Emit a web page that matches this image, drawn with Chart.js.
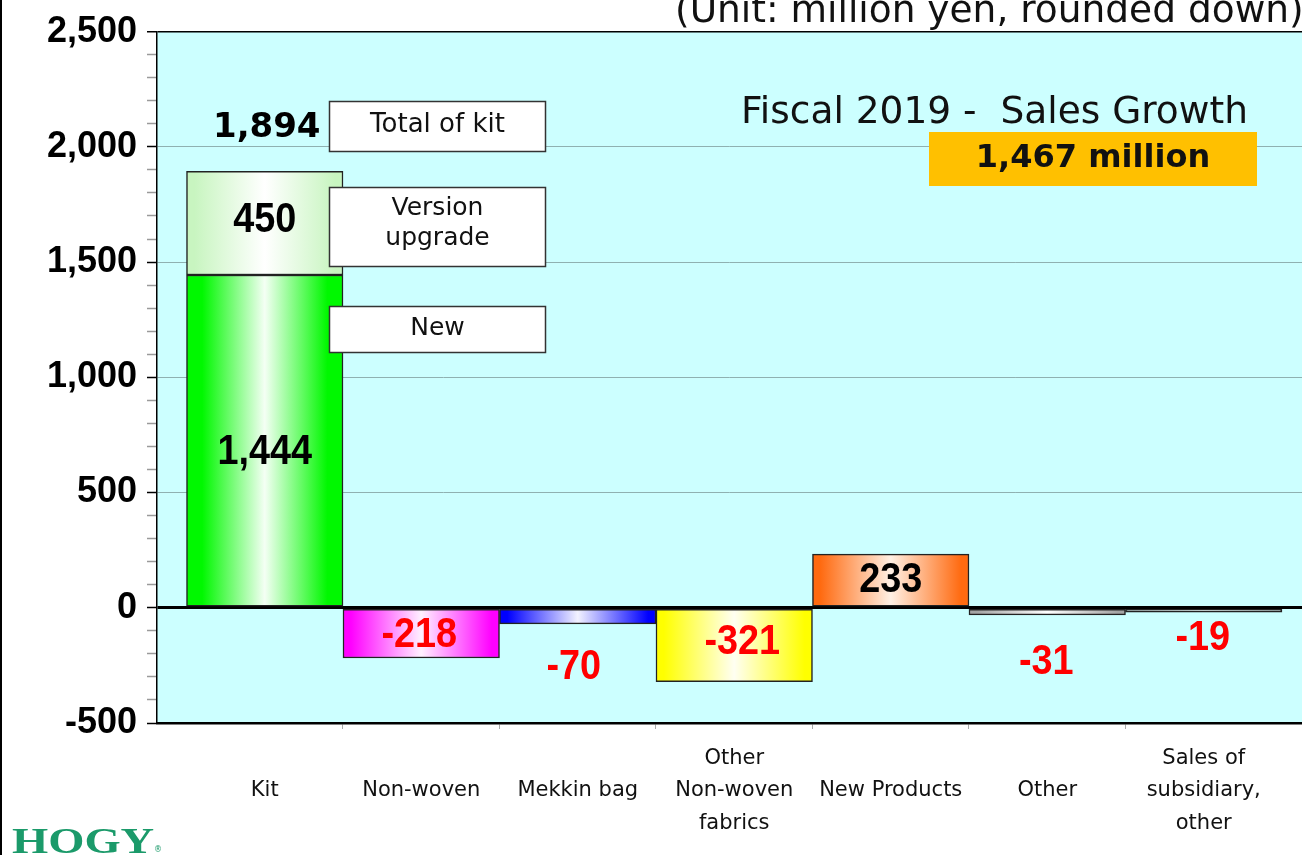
<!DOCTYPE html>
<html><head><meta charset="utf-8">
<script src="https://cdn.jsdelivr.net/npm/chart.js@4.4.1/dist/chart.umd.min.js"></script>
<style>html,body{margin:0;padding:0;background:#fff;overflow:hidden}#wrap{position:relative;width:1302px;height:855px}</style>
</head><body><div id="wrap"><canvas id="c"></canvas></div>
<script>
// ---- data ----
const categories = [
  ['', 'Kit', ''],
  ['', 'Non-woven', ''],
  ['', 'Mekkin bag', ''],
  ['Other', 'Non-woven', 'fabrics'],
  ['', 'New Products', ''],
  ['', 'Other', ''],
  ['Sales of', 'subsidiary,', 'other']
];
const kitNew     = [1444, null, null, null, null, null, null];
const kitUpgrade = [450,  null, null, null, null, null, null];
const growth     = [null, -218, -70, -321, 233, -31, -19];
const yMin = -500, yMax = 2500, yMajor = 500, yMinor = 100;
const totalGrowth = 1467;
const kitTotal = kitNew[0] + kitUpgrade[0];

// ---- styles ----
const growthEdge = [null, '#ff00ff', '#0000ff', '#ffff00', '#ff6a10', '#a4a4a4', '#a4a4a4'];
const growthMid  = [null, '#fff0ff', '#f2f2ff', '#fffff2', '#fff0e4', '#ffffff', '#ffffff'];
const labelDx = [0, -2, -4, 8, 0, -1, -1];
const labelDy = [0, 2, 51, -3, 0, 50, 28];
const NARROW = '"Liberation Sans", Arial, sans-serif';
const DEJAVU = '"DejaVu Sans", Verdana, sans-serif';
const fmt = v => v.toLocaleString('en-US');

function grad(c, edge, mid, hold) {
  const chart = c.chart, xs = chart.scales.x;
  if (!chart.chartArea || !xs || edge == null) return edge || 'transparent';
  const cx = xs.getPixelForValue(c.dataIndex);
  const h = (xs.getPixelForValue(1) - xs.getPixelForValue(0)) / 2;
  if (!isFinite(cx) || !isFinite(h)) return edge;
  const g = chart.ctx.createLinearGradient(cx - h, 0, cx + h, 0);
  g.addColorStop(0, edge); g.addColorStop(hold, edge);
  g.addColorStop(0.5, mid);
  g.addColorStop(1 - hold, edge); g.addColorStop(1, edge);
  return g;
}
const pts = arr => arr.map((v, i) => ({x: i, y: v}));

function narrowText(ctx, text, x, y, sx) {
  ctx.save();
  ctx.translate(x, y); ctx.scale(sx, 1);
  ctx.fillText(text, 0, 0);
  ctx.restore();
}

const bgPlugin = {
  id: 'bg',
  beforeDraw(chart) {
    const {ctx, chartArea: a} = chart;
    ctx.save(); ctx.fillStyle = '#ccffff';
    ctx.fillRect(a.left, a.top, a.right - a.left, a.bottom - a.top);
    ctx.restore();
  }
};

const labelPlugin = {
  id: 'vals',
  afterDatasetsDraw(chart) {
    const ctx = chart.ctx;
    ctx.save();
    ctx.textAlign = 'center'; ctx.textBaseline = 'middle';
    // kit parts
    const mNew = chart.getDatasetMeta(0).data[0];
    const mUp = chart.getDatasetMeta(1).data[0];
    ctx.font = 'bold 42px ' + NARROW; ctx.fillStyle = '#000';
    narrowText(ctx, fmt(kitNew[0]), mNew.x, (mNew.y + mNew.base) / 2 + 12, 0.9);
    narrowText(ctx, fmt(kitUpgrade[0]), mUp.x, (mUp.y + mUp.base) / 2 - 3, 0.9);
    // total
    ctx.font = 'bold 34px ' + DEJAVU;
    ctx.fillText(fmt(kitTotal), mUp.x + 2, mUp.y - 43);
    // growth
    const meta = chart.getDatasetMeta(2);
    growth.forEach((v, i) => {
      if (v == null) return;
      const el = meta.data[i];
      ctx.font = 'bold 42px ' + NARROW;
      ctx.fillStyle = v < 0 ? '#ff0000' : '#000';
      narrowText(ctx, fmt(v), el.x + labelDx[i], (el.y + el.base) / 2 + labelDy[i], 0.9);
    });
    ctx.restore();
  },
  afterDraw(chart) {
    const ctx = chart.ctx;
    ctx.save();
    // slide left border
    ctx.fillStyle = '#000'; ctx.fillRect(0, 0, 2, 855);
    // unit
    ctx.fillStyle = '#111'; ctx.textAlign = 'left'; ctx.textBaseline = 'alphabetic';
    ctx.font = '37.5px ' + DEJAVU;
    ctx.fillText('(Unit: million yen, rounded down)', 675, 22);
    // title
    ctx.fillText('Fiscal 2019 -  Sales Growth', 741, 123);
    // orange box
    ctx.fillStyle = '#ffc000'; ctx.fillRect(929, 132, 328, 54);
    ctx.fillStyle = '#111'; ctx.textAlign = 'center'; ctx.textBaseline = 'middle';
    ctx.font = 'bold 32px ' + DEJAVU;
    ctx.fillText(fmt(totalGrowth) + ' million', 1093, 159);
    // boxes
    const box = (x, y, w, h, lines, ys) => {
      ctx.fillStyle = '#fff'; ctx.fillRect(x, y, w, h);
      ctx.strokeStyle = '#333'; ctx.lineWidth = 1.5; ctx.strokeRect(x, y, w, h);
      ctx.fillStyle = '#111';
      lines.forEach((t, k) => ctx.fillText(t, x + w / 2, ys[k]));
    };
    ctx.font = '26px ' + DEJAVU;
    box(329.5, 101.5, 216, 50, ['Total of kit'], [125]);
    ctx.font = '25px ' + DEJAVU;
    box(329.5, 187.5, 216, 79, ['Version', 'upgrade'], [208, 238]);
    box(329.5, 306.5, 216, 46, ['New'], [328]);
    // logo
    ctx.save();
    ctx.translate(12, 853); ctx.scale(1.33, 1);
    ctx.textAlign = 'left'; ctx.textBaseline = 'alphabetic';
    ctx.fillStyle = '#1b9a6a';
    ctx.font = 'bold 35px "Liberation Serif", serif';
    ctx.fillText('HOGY', 0, 0);
    ctx.restore();
    ctx.fillStyle = '#1b9a6a'; ctx.font = '8px ' + DEJAVU; ctx.textAlign = 'left';
    ctx.fillText('\u00ae', 154, 850);
    ctx.restore();
  }
};

new Chart(document.getElementById('c'), {
  type: 'bar',
  data: {
    datasets: [
      {label: 'New', data: pts(kitNew), backgroundColor: c => grad(c, '#00f800', '#f4fff4', 0.1)},
      {label: 'Version upgrade', data: pts(kitUpgrade), backgroundColor: c => grad(c, '#c8f5c0', '#ffffff', 0.05)},
      {label: 'Growth', data: pts(growth), backgroundColor: c => grad(c, growthEdge[c.dataIndex], growthMid[c.dataIndex], 0.05)}
    ]
  },
  options: {
    responsive: true, maintainAspectRatio: false, animation: false,
    layout: {padding: {top: 31, left: 0, right: 0, bottom: 0}},
    datasets: {bar: {categoryPercentage: 1, barPercentage: 1, borderColor: '#222', borderWidth: 1.5, borderSkipped: false}},
    plugins: {legend: {display: false}, tooltip: {enabled: false}},
    scales: {
      x: {
        type: 'linear', min: -0.6885, max: 6.628, stacked: true, offset: false,
        afterBuildTicks: s => { s.ticks = categories.map((_, i) => ({value: i})); },
        afterFit: s => { s.height = 132; },
        ticks: {autoSkip: false, maxRotation: 0, padding: 13, color: '#111',
          font: {family: DEJAVU, size: 21, lineHeight: 1.55},
          callback: v => categories[v] || ''},
        grid: {offset: true, drawOnChartArea: false, tickLength: 6, lineWidth: 1,
          tickColor: c => (c.index >= 1 && c.index <= 6) ? '#aaaaaa' : 'rgba(0,0,0,0)'},
        border: {color: '#000', width: 2.5}
      },
      y: {
        type: 'linear', min: yMin, max: yMax, stacked: true,
        afterBuildTicks: s => { const t = []; for (let v = yMin; v <= yMax; v += yMinor) t.push({value: v}); s.ticks = t; },
        afterFit: s => { s.width = 157; },
        ticks: {autoSkip: false, padding: 10, color: '#000',
          font: {family: '"Liberation Sans", Arial, sans-serif', size: 36, weight: 'bold'},
          callback: v => (v % yMajor === 0) ? fmt(v) : ''},
        grid: {
          tickLength: 10, tickWidth: 1.5,
          tickColor: c => (c.tick && c.tick.value % yMajor === 0) ? '#000' : '#9a9a9a',
          color: c => {
            const v = c.tick && c.tick.value;
            if (v === 0 || v === yMax) return '#000';
            if (v === yMin) return 'rgba(0,0,0,0)';
            return v % yMajor === 0 ? '#8fb1b1' : 'rgba(0,0,0,0)';
          },
          lineWidth: c => (c.tick && c.tick.value === 0) ? 3 : (c.tick && c.tick.value === yMax ? 1.5 : 1)
        },
        border: {color: '#000', width: 1.5}
      }
    }
  },
  plugins: [bgPlugin, labelPlugin]
});
</script></body></html>
